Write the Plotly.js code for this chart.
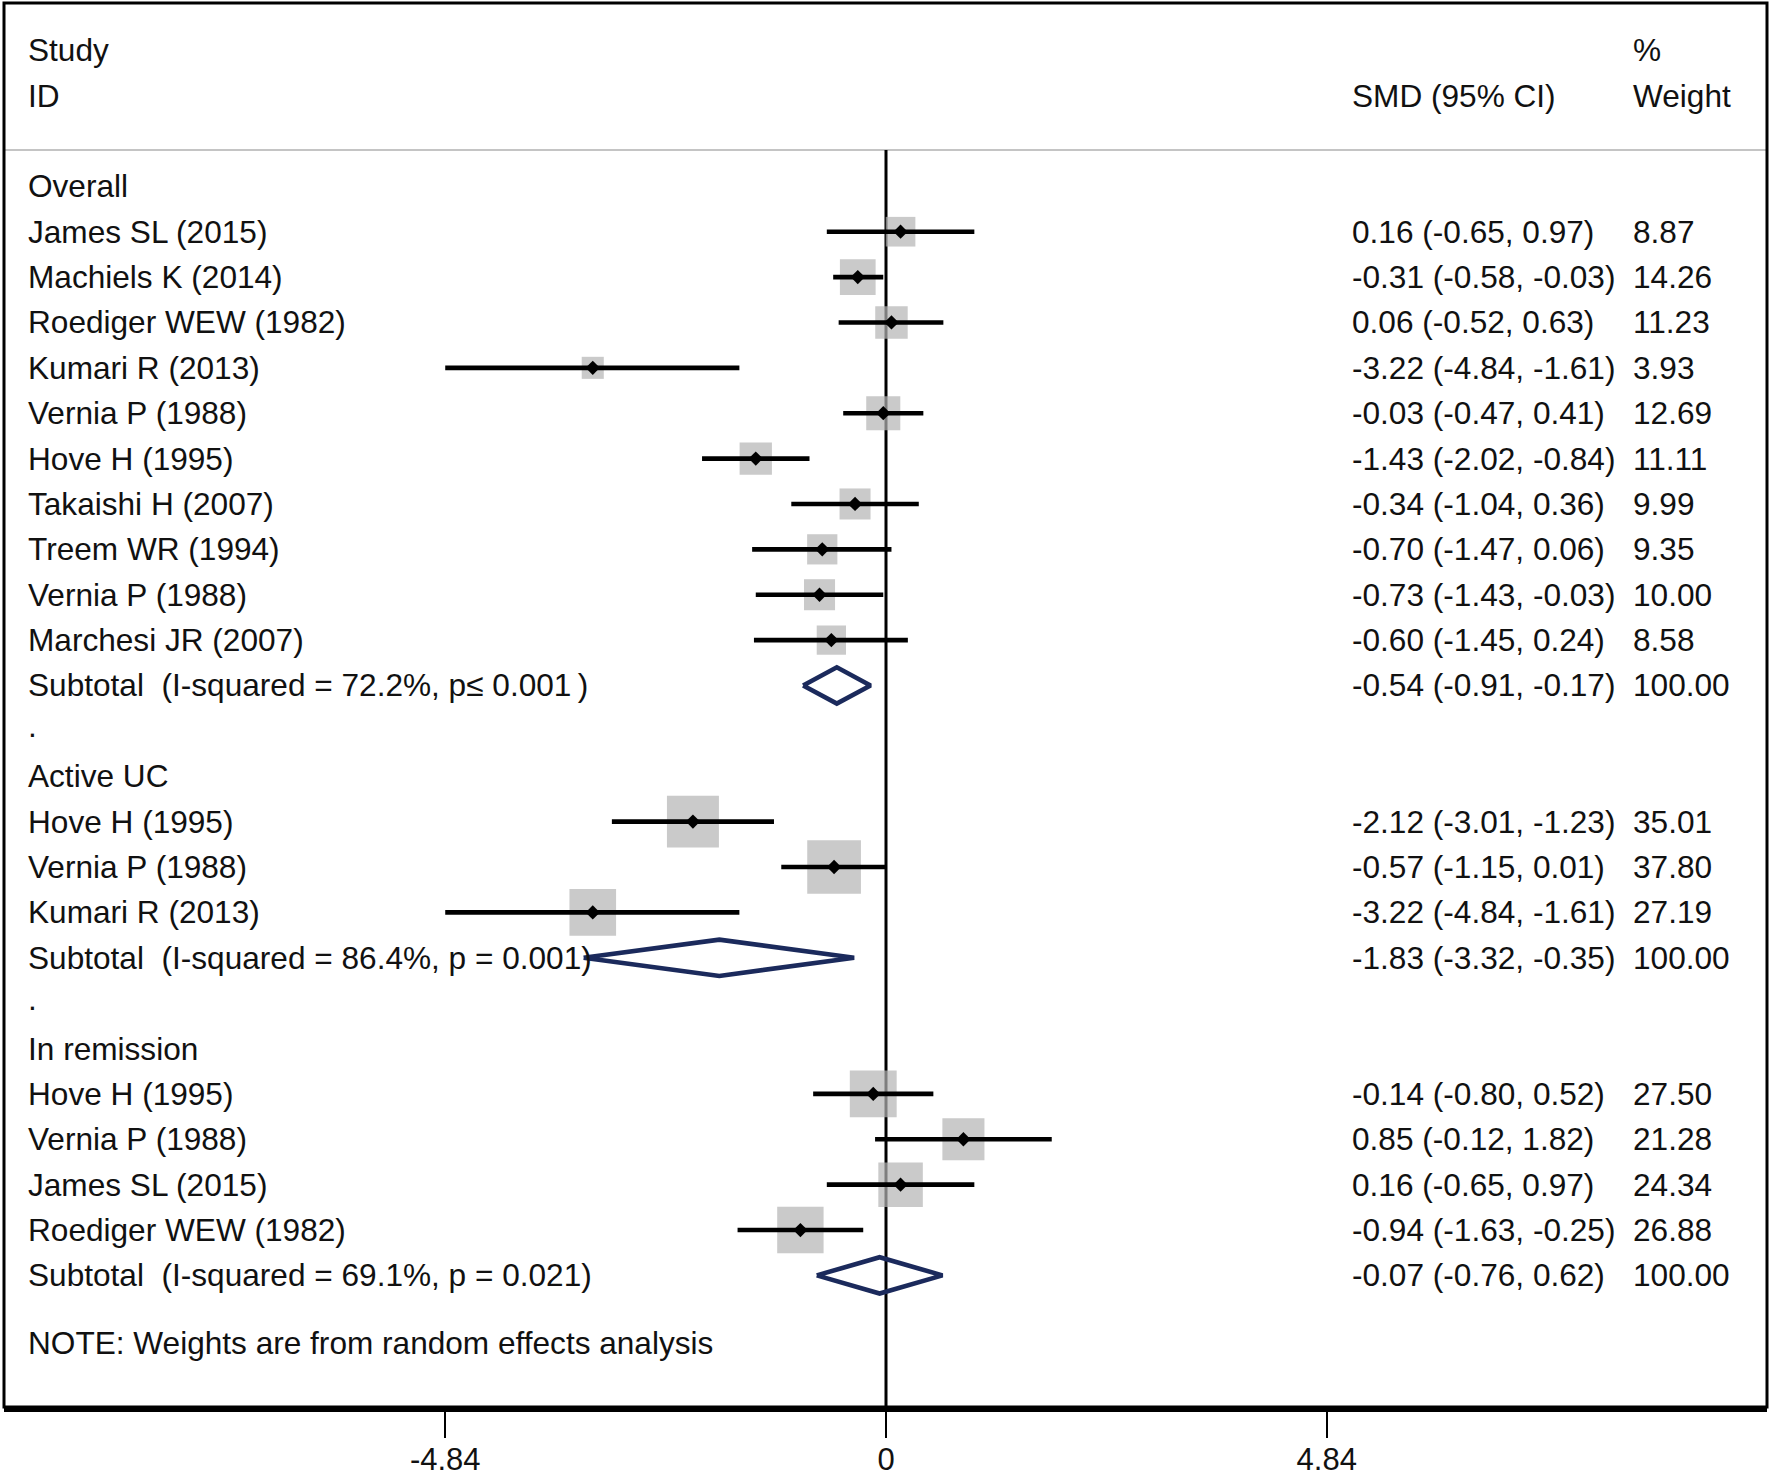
<!DOCTYPE html>
<html>
<head>
<meta charset="utf-8">
<script src="https://cdn.plot.ly/plotly-3.0.1.min.js"></script>
<style>html,body{margin:0;padding:0;background:#fff;}#chart{width:1770px;height:1476px;}</style>
</head>
<body>
<div id="chart"></div>
<script>
// ---- Data ----
const rowLabel = [
  "Overall",
  "James SL (2015)", "Machiels K (2014)", "Roediger WEW (1982)", "Kumari R (2013)",
  "Vernia P (1988)", "Hove H (1995)", "Takaishi H (2007)", "Treem WR (1994)",
  "Vernia P (1988)", "Marchesi JR (2007)",
  "Subtotal\u00a0 (I-squared = 72.2%, p\u2264 0.001\u2009)",
  ".",
  "Active UC",
  "Hove H (1995)", "Vernia P (1988)", "Kumari R (2013)",
  "Subtotal\u00a0 (I-squared = 86.4%, p = 0.001)",
  ".",
  "In remission",
  "Hove H (1995)", "Vernia P (1988)", "James SL (2015)", "Roediger WEW (1982)",
  "Subtotal\u00a0 (I-squared = 69.1%, p = 0.021)"
];
const rowKind = [
  "head",
  "study","study","study","study","study","study","study","study","study","study",
  "sub","dot","head",
  "study","study","study",
  "sub","dot","head",
  "study","study","study","study",
  "sub"
];
const smd = [null, 0.16,-0.31,0.06,-3.22,-0.03,-1.43,-0.34,-0.70,-0.73,-0.60, -0.54, null,null,
  -2.12,-0.57,-3.22, -1.83, null,null, -0.14,0.85,0.16,-0.94, -0.07];
const ciLow = [null, -0.65,-0.58,-0.52,-4.84,-0.47,-2.02,-1.04,-1.47,-1.43,-1.45, -0.91, null,null,
  -3.01,-1.15,-4.84, -3.32, null,null, -0.80,-0.12,-0.65,-1.63, -0.76];
const ciHigh = [null, 0.97,-0.03,0.63,-1.61,0.41,-0.84,0.36,0.06,-0.03,0.24, -0.17, null,null,
  -1.23,0.01,-1.61, -0.35, null,null, 0.52,1.82,0.97,-0.25, 0.62];
const weight = [null, 8.87,14.26,11.23,3.93,12.69,11.11,9.99,9.35,10.00,8.58, 100.00, null,null,
  35.01,37.80,27.19, 100.00, null,null, 27.50,21.28,24.34,26.88, 100.00];
const headerLeft = ["Study", "ID"];
const headerEffect = "SMD (95% CI)";
const headerWeight = ["%", "Weight"];
const noteText = "NOTE: Weights are from random effects analysis";
const tickValues = [-4.84, 0, 4.84];
const tickLabels = ["-4.84", "0", "4.84"];

// ---- Layout constants ----
const W = 1770, H = 1476;
const M = {l: 4, r: 3, t: 3, b: 69};
const plotW = W - M.l - M.r;
const px2paper = p => (p - M.l) / plotW;
const FONT = "Liberation Sans, Arial, Helvetica, sans-serif";
const FS = 31.6;
const TXT = "#111111";
const NAVY = "#1b2a5c";
const GREY = "#b4b4b4";

// ---- Build traces ----
const sqX = [], sqY = [], sqS = [];
const ciX = [], ciY = [];
const ptX = [], ptY = [];
const dmX = [], dmY = [];
const DH = 0.4;
rowKind.forEach((k, i) => {
  if (k === "study") {
    sqX.push(smd[i]); sqY.push(i); sqS.push(7 + 7.6 * Math.sqrt(weight[i]));
    ciX.push(ciLow[i], ciHigh[i], null); ciY.push(i, i, null);
    ptX.push(smd[i]); ptY.push(i);
  } else if (k === "sub") {
    dmX.push(ciLow[i], smd[i], ciHigh[i], smd[i], ciLow[i], null);
    dmY.push(i, i - DH, i, i + DH, i, null);
  }
});

const traces = [
  {type: "scatter", mode: "markers", x: sqX, y: sqY, hoverinfo: "skip",
   marker: {symbol: "square", size: sqS, color: GREY, line: {width: 0}}},
  {type: "scatter", mode: "lines", x: ciX, y: ciY, hoverinfo: "skip",
   line: {color: "#000", width: 4.6}},
  {type: "scatter", mode: "markers", x: ptX, y: ptY, hoverinfo: "skip",
   marker: {symbol: "diamond", size: 11, color: "#000", line: {width: 0}}},
  {type: "scatter", mode: "lines", x: dmX, y: dmY, hoverinfo: "skip",
   line: {color: NAVY, width: 4.6}}
];

// ---- Annotations (text columns) ----
const ann = [];
const colLeft = px2paper(26), colEff = px2paper(1350), colWt = px2paper(1631);
function addText(txt, xp, row) {
  ann.push({text: txt, x: xp, xref: "paper", y: row, yref: "y", xanchor: "left", yanchor: "middle",
            showarrow: false, font: {family: FONT, size: FS, color: TXT}});
}
addText(headerLeft[0], colLeft, -3);
addText(headerLeft[1], colLeft, -2);
addText(headerEffect, colEff, -2);
addText(headerWeight[0], colWt, -3);
addText(headerWeight[1], colWt, -2);
rowLabel.forEach((lab, i) => {
  addText(lab, colLeft, rowKind[i] === "dot" ? i - 0.1 : i);
  if (smd[i] !== null) {
    addText(smd[i].toFixed(2) + " (" + ciLow[i].toFixed(2) + ", " + ciHigh[i].toFixed(2) + ")", colEff, i);
    addText(weight[i].toFixed(2), colWt, i);
  }
});
addText(noteText, colLeft, 25.5);

const layout = {
  width: W, height: H,
  margin: M,
  paper_bgcolor: "#fff", plot_bgcolor: "#fff",
  showlegend: false,
  xaxis: {range: [-9.685, 9.674], showgrid: false, zeroline: false,
          showline: true, linewidth: 5, linecolor: "#000",
          ticks: "outside", ticklen: 26, tickwidth: 2, tickcolor: "#000",
          ticklabelstandoff: -5,
          tickvals: tickValues, ticktext: tickLabels,
          tickfont: {family: FONT, size: 31, color: TXT}, fixedrange: true},
  yaxis: {range: [26.9, -4.04], visible: false, fixedrange: true},
  annotations: ann,
  shapes: [
    {type: "rect", xref: "paper", yref: "paper", x0: 0, x1: 1, y0: 0, y1: 1,
     line: {color: "#000", width: 3}, layer: "above"},
    {type: "line", xref: "paper", yref: "y", x0: 0, x1: 1, y0: -0.8, y1: -0.8,
     line: {color: "#c4c4c4", width: 2}, layer: "below"},
    {type: "line", xref: "x", yref: "paper", x0: 0, x1: 0, y0: 0, y1: 0,
     line: {color: "#000", width: 3}, layer: "below"}
  ]
};
// zero line from the header separator to the bottom axis
const sepPaper = (26.9 - (-0.8)) / (26.9 + 4.04);
layout.shapes[2].y1 = sepPaper;

Plotly.newPlot("chart", traces, layout, {displayModeBar: false, staticPlot: true});
</script>
</body>
</html>
